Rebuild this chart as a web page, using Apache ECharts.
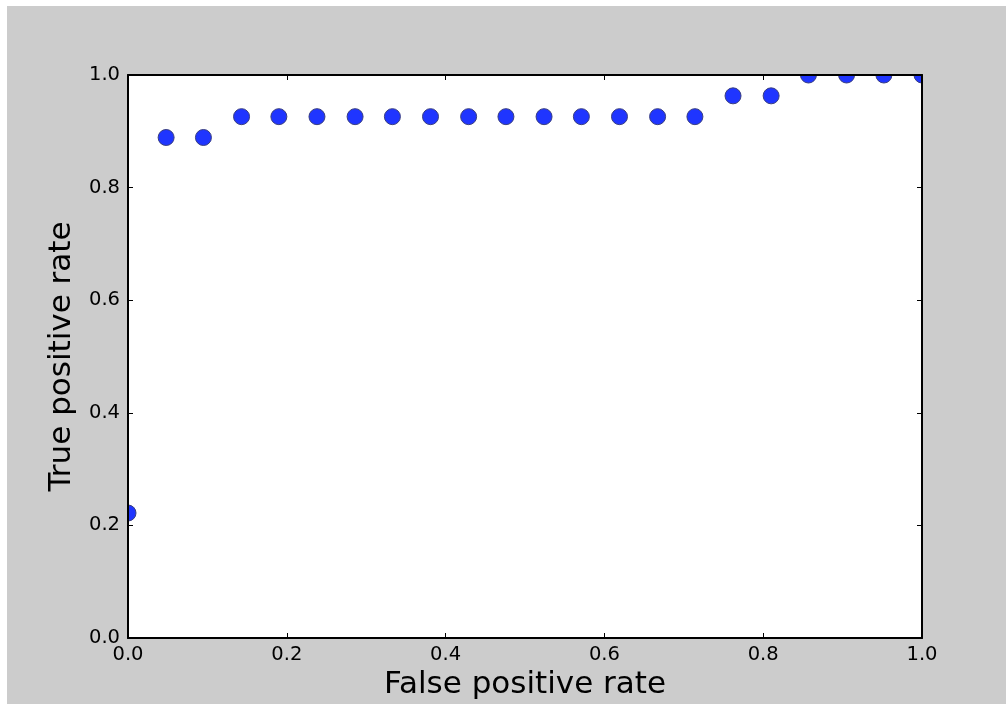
<!DOCTYPE html>
<html>
<head>
<meta charset="utf-8">
<script src="https://cdn.jsdelivr.net/npm/echarts@6/dist/echarts.min.js"></script>
<style>
  html, body { margin: 0; padding: 0; background: #fff; }
  #main { width: 1006px; height: 705px; }
</style>
</head>
<body>
<div id="main"></div>
<script>
// ROC points
var fpr = [0, 0.048, 0.095, 0.143, 0.190, 0.238, 0.286, 0.333, 0.381, 0.429, 0.476,
           0.524, 0.571, 0.619, 0.667, 0.714, 0.762, 0.810, 0.857, 0.905, 0.952, 1.0];
var tpr = [0.222, 0.889, 0.889, 0.926, 0.926, 0.926, 0.926, 0.926, 0.926, 0.926, 0.926,
           0.926, 0.926, 0.926, 0.926, 0.926, 0.963, 0.963, 1.0, 1.0, 1.0, 1.0];
var xName = 'False positive rate';
var yName = 'True positive rate';

var points = [];
for (var i = 0; i < fpr.length; i++) {
    points.push([fpr[i], tpr[i]]);
}

var font = 'DejaVu Sans';
var gray = '#cccccc';

// plot box (pixels)
var L = 128, T = 75, R = 922, B = 638;

function axisBase(pos, showLabel) {
    var a = {
        type: 'value',
        position: pos,
        min: 0,
        max: 1,
        interval: 0.2,
        z: 10,
        axisLine: { show: true, onZero: false, lineStyle: { color: '#000', width: 2 } },
        axisTick: { show: true, inside: true, length: 5, lineStyle: { color: '#000', width: 1 } },
        splitLine: { show: false },
        axisLabel: {
            show: showLabel,
            color: '#000',
            fontFamily: font,
            fontSize: 19.5,
            formatter: function (v) { return v.toFixed(1); }
        }
    };
    return a;
}

var xBottom = axisBase('bottom', true);
xBottom.axisLabel.margin = 7;
xBottom.name = xName;
xBottom.nameLocation = 'middle';
xBottom.nameGap = 31;
xBottom.nameTextStyle = { color: '#000', fontFamily: font, fontSize: 31 };
var xTop = axisBase('top', false);

var yLeft = axisBase('left', true);
yLeft.axisLabel.margin = 8;
yLeft.name = yName;
yLeft.nameLocation = 'middle';
yLeft.nameGap = 51;
yLeft.nameTextStyle = { color: '#000', fontFamily: font, fontSize: 31 };
var yRight = axisBase('right', false);

var chart = echarts.init(document.getElementById('main'), null, { renderer: 'canvas' });

chart.setOption({
    animation: false,
    backgroundColor: gray,
    grid: {
        left: L, top: T, width: R - L, height: B - T,
        outerBoundsMode: 'none',
        containLabel: false,
        show: true, backgroundColor: '#fff', borderWidth: 0
    },
    xAxis: [xBottom, xTop],
    yAxis: [yLeft, yRight],
    graphic: [
        // white frame round the figure
        { type: 'rect', z: 3, shape: { x: 0, y: 0, width: 1006, height: 6 }, style: { fill: '#fff' }, silent: true },
        { type: 'rect', z: 3, shape: { x: 0, y: 0, width: 7, height: 705 }, style: { fill: '#fff' }, silent: true },
        { type: 'rect', z: 3, shape: { x: 0, y: 704, width: 1006, height: 1 }, style: { fill: '#fff' }, silent: true },
        // gray strips hide the parts of markers outside the axes
        { type: 'rect', z: 3, shape: { x: 7, y: 6, width: 999, height: T - 6 }, style: { fill: gray }, silent: true },
        { type: 'rect', z: 3, shape: { x: 7, y: B, width: 999, height: 704 - B }, style: { fill: gray }, silent: true },
        { type: 'rect', z: 3, shape: { x: 7, y: T, width: L - 7, height: B - T }, style: { fill: gray }, silent: true },
        { type: 'rect', z: 3, shape: { x: R, y: T, width: 1006 - R, height: B - T }, style: { fill: gray }, silent: true }
    ],
    series: [{
        type: 'scatter',
        xAxisIndex: 0,
        yAxisIndex: 0,
        z: 2,
        clip: false,
        symbol: 'circle',
        symbolSize: 16,
        itemStyle: { color: '#1f35ff', borderColor: '#3a3f80', borderWidth: 1, opacity: 1 },
        data: points
    }]
});
</script>
</body>
</html>
